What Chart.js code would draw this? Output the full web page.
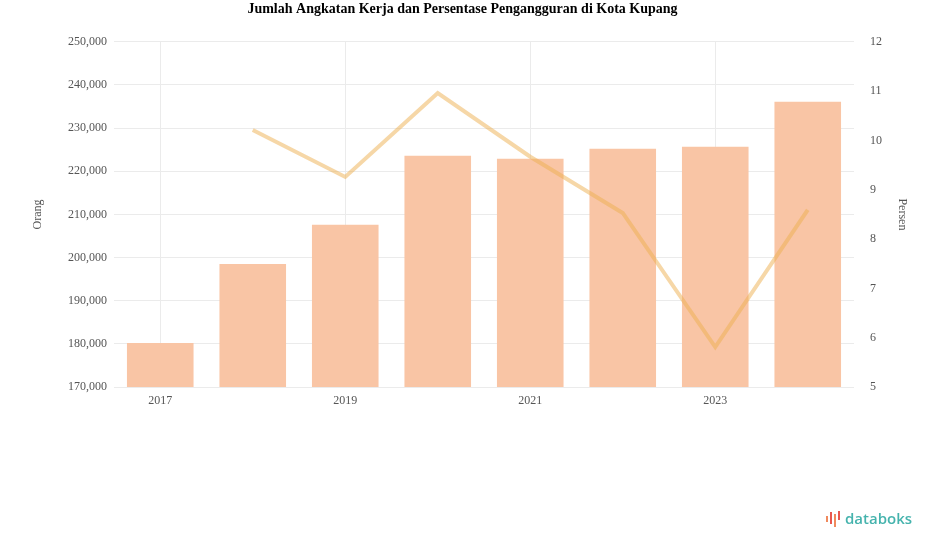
<!DOCTYPE html>
<html>
<head>
<meta charset="utf-8">
<script src="https://cdn.jsdelivr.net/npm/chart.js@4.4.0/dist/chart.umd.min.js"></script>
<style>
  html, body { margin: 0; padding: 0; background: #fff; }
  #wrap { position: relative; width: 925px; height: 547px; }
  #logo { position: absolute; left: 825px; top: 508px; display: flex; align-items: center;
          font-family: "Open Sans", "DejaVu Sans", sans-serif; font-weight: 600; font-size: 15px; color: #45b3ad; }
  #logo svg { margin-right: 2px; }
</style>
</head>
<body>
<div id="wrap">
  <canvas id="c" width="925" height="547"></canvas>
  <div id="logo">
    <svg width="18" height="18" viewBox="0 0 18 18">
      <rect x="1" y="7" width="2" height="6" fill="#f08a5d"/>
      <rect x="5" y="3" width="2" height="12" fill="#e9574f"/>
      <rect x="9" y="5" width="2" height="13" fill="#f08a5d"/>
      <rect x="13" y="2" width="2" height="9" fill="#e9574f"/>
    </svg>databoks
  </div>
</div>
<script>
const title = "Jumlah Angkatan Kerja dan Persentase Pengangguran di Kota Kupang";
const years = ["2017", "2018", "2019", "2020", "2021", "2022", "2023", "2024"];
const angkatanKerja = [180200, 198500, 207600, 223600, 222900, 225200, 225700, 236100];
const pengangguran = [null, 10.21, 9.26, 10.96, 9.67, 8.53, 5.81, 8.59];
const leftTitle = "Orang";
const rightTitle = "Persen";

const tickFont = { family: "Liberation Serif", size: 12 };

new Chart(document.getElementById("c"), {
  data: {
    labels: years,
    datasets: [
      {
        type: "line",
        label: "Pengangguran",
        data: pengangguran,
        yAxisID: "y1",
        borderColor: "rgba(238,176,80,0.5)",
        backgroundColor: "rgba(238,176,80,0.5)",
        borderWidth: 4,
        pointRadius: 0,
        tension: 0,
        spanGaps: true,
        order: 0
      },
      {
        type: "bar",
        label: "Angkatan Kerja",
        data: angkatanKerja,
        yAxisID: "y",
        backgroundColor: "#f9c5a5",
        order: 1
      }
    ]
  },
  options: {
    responsive: false,
    animation: false,
    layout: { padding: 0 },
    plugins: {
      legend: { display: false },
      tooltip: { enabled: false },
      title: {
        display: true,
        text: title,
        color: "#000",
        font: { family: "Liberation Serif", size: 14, weight: "bold" },
        padding: { top: 1, bottom: 24 }
      }
    },
    scales: {
      x: {
        afterFit: (s) => { s.height = 160; },
        grid: {
          offset: false,
          drawTicks: false,
          color: (ctx) => (ctx.index % 2 === 0 ? "#ebebeb" : "rgba(0,0,0,0)")
        },
        border: { display: false },
        ticks: {
          autoSkip: false,
          maxRotation: 0,
          padding: 7,
          color: "#555",
          font: tickFont,
          callback: function (v, i) { return i % 2 === 0 ? this.getLabelForValue(v) : ""; }
        }
      },
      y: {
        position: "left",
        min: 170000,
        max: 250000,
        afterFit: (s) => { s.width = 114; },
        grid: { color: "#ebebeb", drawTicks: false },
        border: { display: false },
        ticks: {
          stepSize: 10000,
          padding: 7,
          color: "#555",
          font: tickFont,
          callback: (v) => v.toLocaleString("en-US")
        },
        title: { display: true, text: leftTitle, color: "#555", font: tickFont, padding: { top: 31, bottom: 4 } }
      },
      y1: {
        position: "right",
        min: 5,
        max: 12,
        afterFit: (s) => { s.width = 71; },
        grid: { display: false },
        border: { display: false },
        ticks: { stepSize: 1, padding: 8, color: "#555", font: tickFont },
        title: { display: true, text: rightTitle, color: "#555", font: tickFont, padding: { top: 16, bottom: 4 } }
      }
    }
  }
});
</script>
</body>
</html>
